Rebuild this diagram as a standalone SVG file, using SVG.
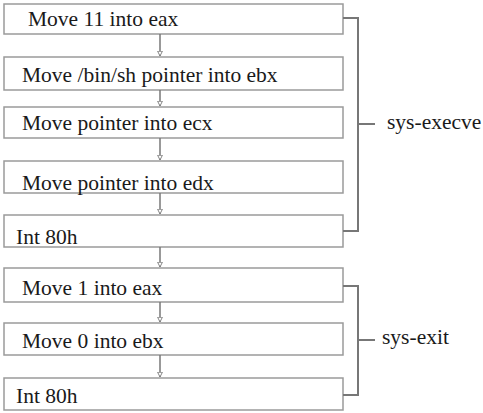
<svg xmlns="http://www.w3.org/2000/svg" width="483" height="413" viewBox="0 0 483 413">
<defs>
<style>
.box rect{fill:#fff;stroke:#9a9a9a;stroke-width:1.5}
text{font-family:'Liberation Serif','Times New Roman',Times,serif;font-size:21.5px;fill:#1a1a1a}
.conn line{stroke:#777;stroke-width:1.5}
.br{fill:none;stroke:#777;stroke-width:2}
</style>
<marker id="ah" viewBox="0 0 10 10" refX="9" refY="5" markerWidth="6" markerHeight="6" orient="auto" markerUnits="userSpaceOnUse">
<path d="M1,1 L9,5 L1,9 Z" fill="#fff" stroke="#777" stroke-width="1.5"/>
</marker>
</defs>
<rect width="483" height="413" fill="#fff"/>
<g id="n1" class="box"><rect x="4" y="4" width="339" height="30"/><text x="28" y="26">Move 11 into eax</text></g>
<g id="n2" class="box"><rect x="4" y="57" width="339" height="33"/><text x="22" y="82">Move /bin/sh pointer into ebx</text></g>
<g id="n3" class="box"><rect x="4" y="107" width="339" height="31"/><text x="22" y="130">Move pointer into ecx</text></g>
<g id="n4" class="box"><rect x="4" y="161" width="339" height="32"/><text x="22" y="190">Move pointer into edx</text></g>
<g id="n5" class="box"><rect x="4" y="215" width="339" height="32"/><text x="16" y="244">Int 80h</text></g>
<g id="n6" class="box"><rect x="4" y="268" width="339" height="34"/><text x="22" y="295">Move 1 into eax</text></g>
<g id="n7" class="box"><rect x="4" y="323" width="339" height="32"/><text x="22" y="348">Move 0 into ebx</text></g>
<g id="n8" class="box"><rect x="4" y="378" width="339" height="32"/><text x="16" y="403">Int 80h</text></g>
<g id="connectors" class="conn">
<line x1="160" y1="34" x2="160" y2="56" marker-end="url(#ah)"/>
<line x1="160" y1="90" x2="160" y2="106" marker-end="url(#ah)"/>
<line x1="160" y1="138" x2="160" y2="160" marker-end="url(#ah)"/>
<line x1="160" y1="193" x2="160" y2="214" marker-end="url(#ah)"/>
<line x1="160" y1="247" x2="160" y2="267" marker-end="url(#ah)"/>
<line x1="160" y1="302" x2="160" y2="322" marker-end="url(#ah)"/>
<line x1="160" y1="355" x2="160" y2="377" marker-end="url(#ah)"/>
</g>
<g id="bracket-execve">
<path class="br" d="M343,18 H358 V231 H343 M358,124 H375"/>
<text x="387" y="129">sys-execve</text>
</g>
<g id="bracket-exit">
<path class="br" d="M343,286 H358 V395 H343 M358,340 H375"/>
<text x="382" y="344">sys-exit</text>
</g>
</svg>
